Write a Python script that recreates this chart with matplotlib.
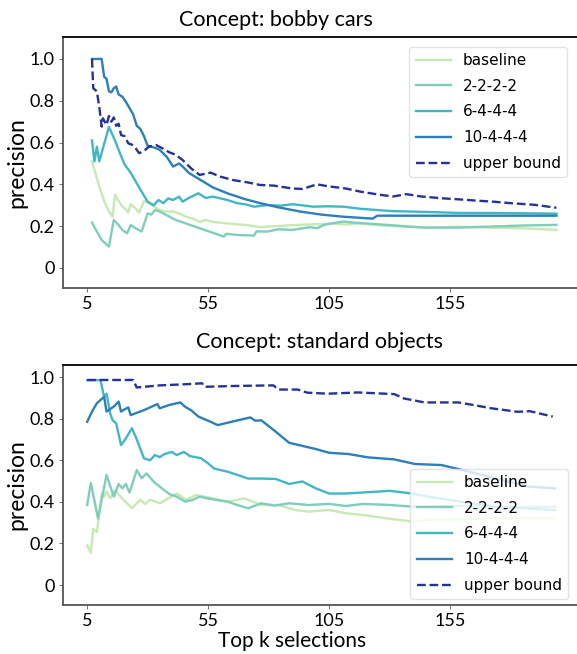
import matplotlib
matplotlib.use("Agg")
import matplotlib.pyplot as plt

# ---- data: concept "bobby cars" ----
bc_base_k = [7, 8.5, 10, 12, 14, 15.5, 16.5, 18, 19.5, 21, 22, 23, 25, 26.5, 28.5, 30.5, 32.5, 34.5, 37, 40.5, 43, 46, 49, 51.5, 54, 57, 61, 65.5, 71, 76.5, 83, 90, 97, 106, 112, 118, 125, 131.5, 145, 158, 172, 185, 199]
bc_base = [0.51, 0.45, 0.39, 0.32, 0.27, 0.245, 0.35, 0.32, 0.295, 0.28, 0.265, 0.305, 0.285, 0.265, 0.32, 0.31, 0.295, 0.28, 0.27, 0.27, 0.26, 0.245, 0.235, 0.22, 0.23, 0.22, 0.215, 0.21, 0.205, 0.195, 0.2, 0.205, 0.208, 0.212, 0.208, 0.212, 0.205, 0.2, 0.193, 0.197, 0.193, 0.19, 0.182]

bc_2222_k = [7, 9, 11, 14, 16, 18, 19.5, 21.5, 23, 25, 27.5, 30, 31.5, 33, 35, 41.5, 51.5, 61.5, 62.5, 68, 74, 75, 79.5, 84, 90, 97, 100, 103, 107, 111, 115, 119, 131.5, 138, 145, 158, 172, 185, 199]
bc_2222 = [0.217, 0.174, 0.134, 0.102, 0.23, 0.205, 0.182, 0.166, 0.206, 0.19, 0.174, 0.261, 0.255, 0.277, 0.27, 0.23, 0.19, 0.15, 0.163, 0.157, 0.155, 0.175, 0.174, 0.185, 0.182, 0.195, 0.19, 0.206, 0.215, 0.222, 0.217, 0.214, 0.204, 0.198, 0.193, 0.193, 0.198, 0.203, 0.206]

bc_6444_k = [7, 8, 9, 10, 14, 16.5, 18.5, 20.5, 23, 25, 27, 30, 32.5, 34.5, 36.5, 38.5, 40.5, 43, 44.5, 47, 51, 54, 57, 60, 63, 67, 71, 74, 79.5, 85, 90, 98.5, 104, 111, 118, 125, 131, 145, 159, 172, 199]
bc_6444 = [0.61, 0.51, 0.58, 0.51, 0.675, 0.61, 0.55, 0.495, 0.455, 0.415, 0.375, 0.317, 0.3, 0.325, 0.31, 0.333, 0.325, 0.341, 0.317, 0.335, 0.357, 0.335, 0.341, 0.333, 0.325, 0.31, 0.303, 0.293, 0.301, 0.298, 0.305, 0.293, 0.295, 0.293, 0.283, 0.277, 0.272, 0.268, 0.263, 0.263, 0.26]

bc_10444_k = [7, 11, 12, 13, 14, 15, 16, 17, 18, 19.5, 21, 23, 24, 25.5, 27, 28.5, 30, 33, 35, 38, 40.5, 43, 44.5, 47, 52, 57, 63, 70, 76.5, 84, 93, 102, 111, 123, 125, 199]
bc_10444 = [1.0, 1.0, 0.915, 0.905, 0.845, 0.84, 0.86, 0.868, 0.83, 0.82, 0.795, 0.755, 0.735, 0.68, 0.665, 0.63, 0.585, 0.575, 0.565, 0.53, 0.485, 0.5, 0.485, 0.455, 0.42, 0.385, 0.357, 0.33, 0.31, 0.29, 0.27, 0.255, 0.245, 0.236, 0.25, 0.25]

bc_ub_k = [7, 7.5, 9, 10, 11, 11.5, 13, 14, 15, 16, 17, 18, 19, 20.5, 22, 23.5, 25, 26.5, 28.5, 30.5, 33.5, 36.5, 39, 41.5, 44.5, 48, 51.5, 56, 60, 65.5, 71, 76.5, 82, 90, 94, 100, 105, 112, 118, 126, 131.5, 137, 143, 152, 159, 166, 173, 180, 190, 199]
bc_ub = [1.0, 0.86, 0.845, 0.77, 0.676, 0.716, 0.684, 0.727, 0.7, 0.72, 0.68, 0.69, 0.636, 0.63, 0.596, 0.59, 0.573, 0.549, 0.56, 0.58, 0.588, 0.57, 0.553, 0.542, 0.516, 0.476, 0.445, 0.456, 0.437, 0.42, 0.41, 0.397, 0.394, 0.38, 0.378, 0.4, 0.39, 0.38, 0.365, 0.35, 0.342, 0.353, 0.342, 0.333, 0.328, 0.322, 0.317, 0.31, 0.302, 0.288]

# ---- data: concept "standard objects" ----
so_base_k = [5, 6.5, 7.5, 9, 11, 12, 13, 14.5, 16.5, 20, 23.5, 27, 29, 31, 35, 42, 46, 50, 57, 63, 70, 77, 84, 91, 96.5, 105, 112, 119, 128.5, 139.5, 146, 160, 173.5, 198.5]
so_base = [0.19, 0.155, 0.27, 0.255, 0.44, 0.425, 0.45, 0.417, 0.457, 0.41, 0.37, 0.41, 0.39, 0.41, 0.393, 0.44, 0.41, 0.433, 0.417, 0.4, 0.417, 0.385, 0.385, 0.361, 0.353, 0.361, 0.345, 0.337, 0.321, 0.305, 0.313, 0.316, 0.321, 0.321]

so_2222_k = [5, 6.5, 9.5, 13, 16, 18, 19.5, 21, 22.5, 25.5, 27.5, 29.5, 32.5, 35, 39, 42, 45.5, 48.5, 51.5, 54.5, 58.5, 63, 67, 71.5, 77, 82.5, 88.5, 96.5, 105, 112, 119, 130, 139.5, 160, 173.5, 198.5]
so_2222 = [0.385, 0.49, 0.32, 0.53, 0.425, 0.486, 0.465, 0.486, 0.445, 0.553, 0.513, 0.537, 0.497, 0.473, 0.437, 0.425, 0.401, 0.409, 0.425, 0.417, 0.409, 0.401, 0.385, 0.369, 0.393, 0.382, 0.393, 0.385, 0.39, 0.38, 0.39, 0.385, 0.377, 0.38, 0.373, 0.377]

so_6444_k = [5, 10.5, 12, 13, 14.5, 15.5, 17, 19, 21, 23.5, 25.5, 28.5, 31, 33, 35, 37, 40, 42, 45, 47.5, 52, 55, 57.5, 63, 67, 71.5, 77, 83, 88.5, 94, 99.5, 105, 112, 119, 130, 139.5, 146, 160, 173.5, 187.5, 198.5]
so_6444 = [0.985, 0.985, 0.905, 0.92, 0.825, 0.793, 0.777, 0.673, 0.705, 0.754, 0.7, 0.609, 0.6, 0.625, 0.615, 0.63, 0.64, 0.625, 0.64, 0.62, 0.61, 0.585, 0.56, 0.545, 0.53, 0.512, 0.512, 0.51, 0.486, 0.498, 0.465, 0.44, 0.44, 0.445, 0.453, 0.44, 0.425, 0.4, 0.376, 0.368, 0.36]

so_10444_k = [5, 7, 9, 12, 13, 16, 18, 19, 20.5, 22, 23, 28.5, 34, 35, 39, 43.5, 45.5, 48, 51, 54, 56, 59, 66.5, 72.5, 74.5, 77, 83, 88.5, 92.5, 99.5, 105, 113, 121, 132, 140.5, 151.5, 160, 173.5, 187.5, 198.5]
so_10444 = [0.785, 0.834, 0.874, 0.905, 0.834, 0.858, 0.882, 0.834, 0.845, 0.854, 0.817, 0.841, 0.87, 0.85, 0.866, 0.878, 0.857, 0.84, 0.81, 0.795, 0.785, 0.769, 0.79, 0.806, 0.79, 0.792, 0.737, 0.684, 0.673, 0.654, 0.636, 0.63, 0.614, 0.604, 0.582, 0.577, 0.553, 0.513, 0.473, 0.465]

so_ub_k = [5, 24, 25.5, 35, 45, 52.5, 53.5, 65, 82, 84, 92, 96, 104.5, 117, 132, 136, 144.5, 158.5, 165, 172, 183, 188, 197.5]
so_ub = [0.986, 0.986, 0.95, 0.96, 0.965, 0.97, 0.953, 0.957, 0.96, 0.94, 0.94, 0.925, 0.92, 0.926, 0.918, 0.897, 0.878, 0.878, 0.865, 0.85, 0.833, 0.836, 0.81]

labels = ["baseline", "2-2-2-2", "6-4-4-4", "10-4-4-4", "upper bound"]
colors = ["#c7e9b4", "#7fcdbb", "#41b6c4", "#2c7fb8", "#253494"]
xticks = [5, 55, 105, 155]
yticks = [0, 0.2, 0.4, 0.6, 0.8, 1.0]
ytick_labels = ["0", "0.2", "0.4", "0.6", "0.8", "1.0"]

panels = [
    ("Concept: bobby cars",
     [(bc_base_k, bc_base), (bc_2222_k, bc_2222), (bc_6444_k, bc_6444),
      (bc_10444_k, bc_10444), (bc_ub_k, bc_ub)]),
    ("Concept: standard objects",
     [(so_base_k, so_base), (so_2222_k, so_2222), (so_6444_k, so_6444),
      (so_10444_k, so_10444), (so_ub_k, so_ub)]),
]

W, H = 577, 654
fig = plt.figure(figsize=(W / 100, H / 100), dpi=100)
tick_font = "Lato"

# axes boxes in pixels: left, top, right, bottom
boxes = [(63, 37, 583, 288), (63, 365, 583, 605)]
ylims = [(-0.096, 1.105), (-0.096, 1.058)]
title_pos = [(276, 20), (320, 342)]
legend_anchor = [("upper right", (567, 47)), ("lower right", (568, 599))]

for i, (title, series) in enumerate(panels):
    l, t, r, b = boxes[i]
    ax = fig.add_axes([l / W, 1 - b / H, (r - l) / W, (b - t) / H])
    for j, (k, v) in enumerate(series):
        ls = "--" if j == 4 else "-"
        ax.plot(k, v, color=colors[j], lw=1.7, ls=ls, label=labels[j])
    ax.set_xlim(-5, 210)
    ax.set_ylim(*ylims[i])
    ax.set_xticks(xticks)
    ax.set_xticklabels([str(x) for x in xticks], fontfamily=tick_font, fontsize=13)
    ax.set_yticks(yticks)
    ax.set_yticklabels(ytick_labels, fontfamily=tick_font, fontsize=13)
    ax.tick_params(length=3, width=0.8, color="#777777", pad=3)
    for side, sp in ax.spines.items():
        sp.set_color("#555555" if side in ("left", "bottom") else "black")
        sp.set_linewidth(1.3)

    fig.text(title_pos[i][0] / W, 1 - title_pos[i][1] / H, title,
             ha="center", va="center", fontfamily=tick_font, fontsize=15.5)
    fig.text(17 / W, 1 - ((t + b) / 2) / H, "precision", rotation=90,
             ha="center", va="center", fontfamily=tick_font, fontsize=16.5)

    loc, (lx, ly) = legend_anchor[i]
    ax.legend(loc=loc, bbox_to_anchor=(lx / W, 1 - ly / H),
              bbox_transform=fig.transFigure, borderaxespad=0,
              prop={"family": "DejaVu Sans", "size": 11},
              handlelength=2.3, handletextpad=0.8, labelspacing=0.7,
              framealpha=0.8, edgecolor="#dddddd")

fig.text(292 / W, 1 - 641 / H, "Top k selections", ha="center", va="center",
         fontfamily=tick_font, fontsize=15)

fig.savefig("out.png", dpi=100)
